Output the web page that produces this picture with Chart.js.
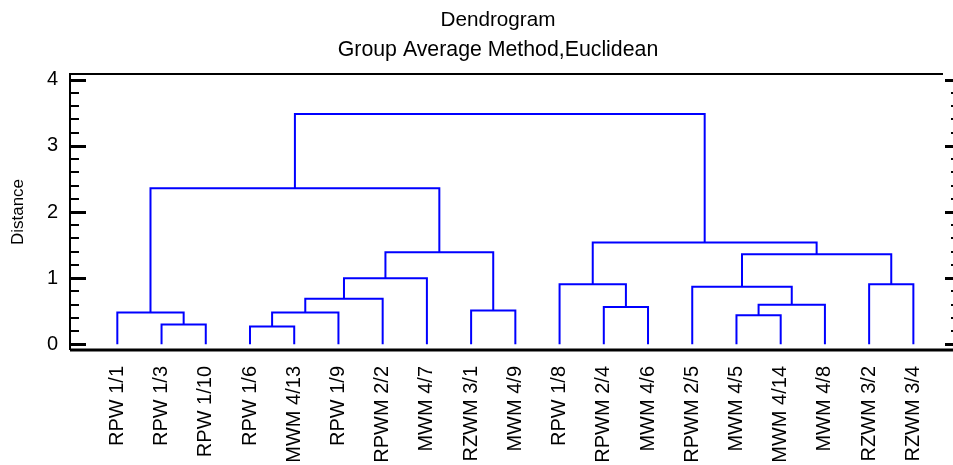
<!DOCTYPE html>
<html>
<head>
<meta charset="utf-8">
<script src="https://cdn.jsdelivr.net/npm/chart.js@4"></script>
<style>
  body { margin: 0; background: #fff; }
  #wrap { width: 953px; height: 465px; }
</style>
</head>
<body>
<div id="wrap"><canvas id="chart"></canvas></div>
<script>
// leaves in plotted order
const leaves = [
  "RPW 1/1", "RPW 1/3", "RPW 1/10", "RPW 1/6", "MWM 4/13", "RPW 1/9",
  "RPWM 2/2", "MWM 4/7", "RZWM 3/1", "MWM 4/9", "RPW 1/8", "RPWM 2/4",
  "MWM 4/6", "RPWM 2/5", "MWM 4/5", "MWM 4/14", "MWM 4/8", "RZWM 3/2", "RZWM 3/4"
];

// linkage: node 19+k joins linkLeft[k] and linkRight[k] at linkHeight[k]
const linkLeft = [3, 1, 14, 0, 19, 8, 11, 21, 23, 13, 10, 17, 27, 28, 31, 29, 22, 35];
const linkRight = [4, 2, 15, 20, 5, 9, 12, 16, 6, 26, 25, 18, 7, 30, 24, 32, 33, 34];
const linkHeight = [0.27, 0.30, 0.44, 0.48, 0.48, 0.51, 0.565, 0.60, 0.69, 0.87,
  0.91, 0.91, 1.00, 1.36, 1.39, 1.54, 2.36, 3.48];

const yTicks = [0, 1, 2, 3, 4];

const titleText = "Dendrogram";
const subtitleText = "Group Average Method,Euclidean";

const BLUE = "#0000ff";
const FONT = "'Liberation Sans', Arial, sans-serif";

// node positions/heights
const nodeX = leaves.map((_, i) => i);
const nodeH = leaves.map(() => 0);
const datasets = [];
linkLeft.forEach((a, k) => {
  const b = linkRight[k];
  const h = linkHeight[k];
  nodeX.push((nodeX[a] + nodeX[b]) / 2);
  nodeH.push(h);
  datasets.push({
    data: [
      { x: nodeX[a], y: nodeH[a] },
      { x: nodeX[a], y: h },
      { x: nodeX[b], y: h },
      { x: nodeX[b], y: nodeH[b] },
    ],
    showLine: true,
    borderColor: BLUE,
    borderWidth: 2,
    pointRadius: 0,
    fill: false,
  });
});

const framePlugin = {
  id: "frame",
  afterDraw(chart) {
    const ctx = chart.ctx;
    const a = chart.chartArea;
    const ys = chart.scales.y;
    ctx.save();
    // titles
    ctx.fillStyle = "#000";
    ctx.textAlign = "center";
    ctx.textBaseline = "middle";
    ctx.font = "20.7px " + FONT;
    ctx.fillText(titleText, 498, 20);
    ctx.font = "21.3px " + FONT;
    ctx.fillText(subtitleText, 498, 50);

    ctx.strokeStyle = "#000";
    ctx.lineWidth = 2;
    ctx.beginPath();
    ctx.moveTo(a.left, a.top);
    ctx.lineTo(a.right, a.top);
    ctx.moveTo(a.left, a.top - 1);
    ctx.lineTo(a.left, a.bottom);
    ctx.stroke();
    ctx.lineWidth = 3;
    ctx.beginPath();
    ctx.moveTo(a.left, a.bottom);
    ctx.lineTo(chart.width, a.bottom);
    ctx.stroke();
    // minor ticks
    ctx.lineWidth = 2;
    ctx.beginPath();
    for (let v = 0.2; v < 4.01; v += 0.2) {
      if (Math.abs(v - Math.round(v)) < 0.01) continue;
      const y = Math.round(ys.getPixelForValue(v));
      ctx.moveTo(a.left, y);
      ctx.lineTo(a.left + 9, y);
      ctx.moveTo(chart.width - 2, y);
      ctx.lineTo(chart.width, y);
    }
    ctx.stroke();
    // major ticks
    ctx.lineWidth = 3;
    ctx.beginPath();
    yTicks.forEach((v) => {
      const y = Math.round(ys.getPixelForValue(v)) + 0.5;
      ctx.moveTo(a.left, y);
      ctx.lineTo(a.left + 16, y);
      ctx.moveTo(a.right + 2, y);
      ctx.lineTo(chart.width, y);
    });
    ctx.stroke();
    ctx.restore();
  },
};

Chart.defaults.color = "#000";
Chart.defaults.font.family = FONT;

new Chart(document.getElementById("chart"), {
  type: "scatter",
  data: { datasets },
  options: {
    responsive: true,
    maintainAspectRatio: false,
    animation: false,
    layout: { padding: { left: 0, right: 10, top: 74, bottom: 0 } },
    plugins: {
      legend: { display: false },
      tooltip: { enabled: false },
      title: { display: false },
    },
    scales: {
      x: {
        type: "linear",
        min: -1.07,
        max: 18.67,
        grid: { display: false, drawTicks: false },
        border: { display: false },
        afterBuildTicks: (s) => { s.ticks = leaves.map((_, i) => ({ value: i })); },
        afterFit: (s) => { s.height = 115; s.paddingLeft = 0; s.paddingRight = 0; },
        ticks: {
          autoSkip: false,
          minRotation: 90,
          maxRotation: 90,
          padding: 16,
          font: { size: 20, family: FONT },
          callback: (v) => leaves[v],
        },
      },
      y: {
        min: -0.085,
        max: 4.085,
        grid: { display: false, drawTicks: false },
        border: { display: false },
        afterBuildTicks: (s) => { s.ticks = yTicks.map((v) => ({ value: v })); },
        afterFit: (s) => { s.width = 70; s.paddingTop = 0; s.paddingBottom = 0; },
        ticks: {
          padding: 12,
          font: { size: 20, family: FONT },
          callback: (v) => String(v),
        },
        title: {
          display: true,
          text: "Distance",
          font: { size: 17, family: FONT },
          padding: { top: 8, bottom: 0 },
        },
      },
    },
  },
  plugins: [framePlugin],
});
</script>
</body>
</html>
